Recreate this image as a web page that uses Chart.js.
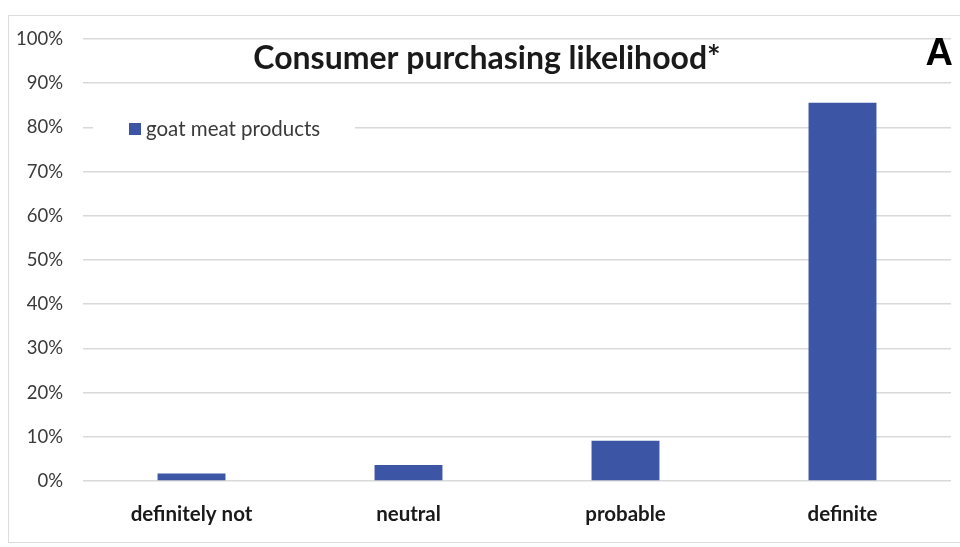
<!DOCTYPE html>
<html>
<head>
<meta charset="utf-8">
<script src="https://cdn.jsdelivr.net/npm/chart.js@4.4.1/dist/chart.umd.min.js"></script>
<style>
  html, body { margin: 0; padding: 0; background: #fff; }
  #wrap { position: relative; width: 960px; height: 547px; }
  #frame { position: absolute; left: 8px; top: 15px; width: 960px; height: 528px; border: 1px solid #dcdcdc; box-sizing: border-box; }
  canvas { position: absolute; left: 0; top: 0; }
</style>
</head>
<body>
<div id="wrap">
  <div id="frame"></div>
  <canvas id="chart" width="960" height="547"></canvas>
</div>
<script>
// data
const categories  = ['definitely not', 'neutral', 'probable', 'definite'];
const goatMeat    = [1.7, 3.6, 9.1, 85.6];
const seriesLabel = 'goat meat products';
const chartTitle  = 'Consumer purchasing likelihood*';
const panelLetter = 'A';

// colors / fonts
const barColor   = '#3c55a5';
const gridColor  = '#d9d9d9';
const tickColor  = '#3a3a3a';
const textColor  = '#1a1a1a';
const baseFont   = 'Lato';

// title, panel letter and in-plot legend
const overlay = {
    id: 'overlay',
    afterDraw(chart) {
        const ctx = chart.ctx;
        const area = chart.chartArea;
        ctx.save();
        // title
        ctx.fillStyle = textColor;
        ctx.font = 'bold 32px ' + baseFont;
        ctx.textAlign = 'center';
        ctx.textBaseline = 'middle';
        ctx.fillText(chartTitle, 487, 59);
        // letter
        ctx.font = 'bold 38px "Liberation Sans"';
        ctx.textAlign = 'right';
        ctx.fillStyle = '#000';
        ctx.fillText(panelLetter, 953, 55);
        // legend box
        const ds = chart.data.datasets[0];
        ctx.fillStyle = '#fff';
        ctx.fillRect(area.left + 10, 112, 262, 32);
        ctx.fillStyle = ds.backgroundColor;
        ctx.fillRect(129, 123, 12, 12);
        ctx.fillStyle = tickColor;
        ctx.font = '20.5px ' + baseFont;
        ctx.textAlign = 'left';
        ctx.fillText(ds.label, 146, 129);
        ctx.restore();
    }
};

const ctx = document.getElementById('chart').getContext('2d');
new Chart(ctx, {
    type: 'bar',
    data: {
        labels: categories,
        datasets: [{
            label: seriesLabel,
            data: goatMeat,
            backgroundColor: barColor,
            barPercentage: 0.313,
            categoryPercentage: 1.0,
        }]
    },
    plugins: [overlay],
    options: {
        responsive: false,
        animation: false,
        layout: {
            padding: { top: 39, right: 9, bottom: 0, left: 0 }
        },
        plugins: {
            legend: { display: false },
            title: { display: false },
            tooltip: { enabled: false },
        },
        scales: {
            x: {
                grid: { display: false },
                border: { display: false },
                ticks: {
                    color: textColor,
                    padding: 13,
                    font: { family: baseFont, size: 20.5, weight: 'bold' }
                },
                afterFit: function (scale) { scale.height = 66; }
            },
            y: {
                min: 0,
                max: 100,
                ticks: {
                    stepSize: 10,
                    color: tickColor,
                    padding: 20,
                    font: { family: baseFont, size: 18.5 },
                    callback: function (v) { return v + '%'; }
                },
                grid: { color: gridColor, lineWidth: 1.5, drawTicks: false },
                border: { display: false },
                afterFit: function (scale) { scale.width = 83; }
            }
        }
    }
});
</script>
</body>
</html>
